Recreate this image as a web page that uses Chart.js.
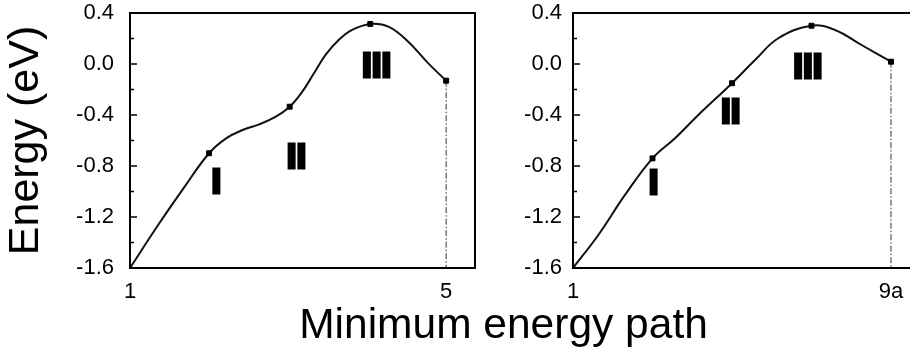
<!DOCTYPE html>
<html>
<head>
<meta charset="utf-8">
<script src="https://cdn.jsdelivr.net/npm/chart.js@4.4.1/dist/chart.umd.min.js"></script>
<style>
  body { margin: 0; width: 910px; height: 354px; overflow: hidden; background: #fff; position: relative;
         font-family: 'Liberation Sans', Arial, sans-serif; }
  .panel { position: absolute; top: 0; height: 354px; }
  #leftBox { left: 0; width: 480px; }
  #rightBox { left: 470px; width: 460px; }
  #xTitle { position: absolute; left: 0; width: 1007px; top: 303px; text-align: center;
            font-size: 42.5px; line-height: 41px; color: #000; }
</style>
</head>
<body>
<div class="panel" id="leftBox"><canvas id="leftChart"></canvas></div>
<div class="panel" id="rightBox"><canvas id="rightChart"></canvas></div>
<div id="xTitle">Minimum energy path</div>
<script>
// path 1: images 1..5
const leftX = [1, 1.356, 1.692, 2.0, 2.216, 2.425, 2.635, 2.845, 3.02, 3.18, 3.327, 3.474, 3.64, 3.81, 4.04, 4.27, 4.52, 4.774, 5.0];
const leftY = [-1.6, -1.263, -0.962, -0.70, -0.583, -0.518, -0.473, -0.413, -0.335, -0.217, -0.073, 0.071, 0.188, 0.267, 0.314, 0.293, 0.175, 0.005, -0.131];
const leftMarkX = [2.0, 3.02, 4.04, 5.0];
const leftMarkY = [-0.70, -0.335, 0.314, -0.131];

// path 2: images 1..9a
const rightX = [1, 1.637, 2.308, 3.0, 3.566, 4.152, 5.0, 5.579, 6.165, 7.0, 7.59, 8.26, 9.0];
const rightY = [-1.6, -1.341, -1.027, -0.74, -0.583, -0.40, -0.151, 0.031, 0.202, 0.30, 0.267, 0.149, 0.018];
const rightMarkX = [3.0, 5.0, 7.0, 9.0];
const rightMarkY = [-0.74, -0.151, 0.30, 0.018];

const yTicks = [-1.6, -1.2, -0.8, -0.4, 0.0, 0.4];
const leftXTicks = [1, 5];
const leftXLabels = ['1', '5'];
const rightXTicks = [1, 9];
const rightXLabels = ['1', '9a'];

const stages = ['I', 'II', 'III'];
const leftStageX = [2.094, 3.107, 4.12];
const leftStageY = [-0.91, -0.714, -0.004];
const rightStageX = [3.025, 4.97, 6.91];
const rightStageY = [-0.918, -0.361, -0.008];

const FONT = "'Liberation Sans', Arial, sans-serif";

const pts = (xs, ys) => xs.map((x, i) => ({x: x, y: ys[i]}));

// box around the plot, inward ticks on the energy axis, stage numerals
const makeFrame = function(stageX, stageY){
	return {
		id: 'frame',
		afterDraw(chart){
			const ctx = chart.ctx, a = chart.chartArea, sy = chart.scales.y, sx = chart.scales.x;
			ctx.save();
			ctx.strokeStyle = '#000';
			ctx.lineWidth = 1.5;
			ctx.beginPath();
			for(let i = 0; i < yTicks.length; i++){
				const py = sy.getPixelForValue(yTicks[i]);
				ctx.moveTo(a.left, py); ctx.lineTo(a.left + 7, py);
				if(i < yTicks.length - 1){
					const pm = sy.getPixelForValue((yTicks[i] + yTicks[i+1]) / 2);
					ctx.moveTo(a.left, pm); ctx.lineTo(a.left + 4, pm);
				}
			}
			ctx.stroke();
			ctx.lineWidth = 2;
			ctx.strokeRect(a.left, a.top, a.right - a.left, a.bottom - a.top);

			ctx.font = 'bold 35px ' + FONT;
			ctx.textAlign = 'center';
			ctx.textBaseline = 'middle';
			ctx.fillStyle = '#000';
			ctx.lineWidth = 3;
			ctx.lineJoin = 'miter';
			for(let i = 0; i < stages.length; i++){
				const px = sx.getPixelForValue(stageX[i]);
				const py = sy.getPixelForValue(stageY[i]) + 3;
				ctx.fillText(stages[i], px, py);
				ctx.strokeText(stages[i], px, py);
			}
			ctx.restore();
		}
	};
};

const makePanel = function(id, o){
	const endX = o.markX[o.markX.length - 1], endY = o.markY[o.markY.length - 1];
	const config = {
		type: 'line',
		data: {
			datasets: [{
				data: pts(o.markX, o.markY),
				showLine: false,
				pointStyle: 'rect',
				pointRadius: 3.5,
				pointBackgroundColor: '#000',
				pointBorderColor: '#000',
				pointBorderWidth: 1
			}, {
				data: pts(o.curveX, o.curveY),
				borderColor: '#111',
				borderWidth: 2,
				pointRadius: 0,
				tension: 0.4,
				fill: false
			}, {
				data: [{x: endX, y: endY}, {x: endX, y: yTicks[0]}],
				borderColor: '#333',
				borderWidth: 1,
				borderDash: [6, 2, 1.5, 2],
				pointRadius: 0
			}]
		},
		options: {
			responsive: true,
			maintainAspectRatio: false,
			animation: false,
			layout: { padding: { top: 13, right: o.padRight, bottom: 0, left: 0 } },
			plugins: { legend: { display: false }, tooltip: { enabled: false } },
			scales: {
				x: {
					type: 'linear',
					min: 1,
					max: o.xMax,
					grid: { display: false },
					border: { display: false },
					afterBuildTicks: s => { s.ticks = o.xTicks.map(v => ({value: v})); },
					afterFit: s => { s.height = 86; s.paddingLeft = 0; s.paddingRight = 0; },
					ticks: {
						padding: 3,
						color: '#000',
						font: { family: FONT, size: 22 },
						maxRotation: 0,
						autoSkip: false,
						callback: (v, i) => o.xLabels[i]
					}
				},
				y: {
					min: -1.6,
					max: 0.4,
					grid: { display: false },
					border: { display: false },
					afterBuildTicks: s => { s.ticks = yTicks.map(v => ({value: v})); },
					afterFit: s => { s.width = o.yWidth; s.paddingTop = 0; s.paddingBottom = 0; },
					ticks: {
						padding: o.yPad,
						color: '#000',
						font: { family: FONT, size: 22 },
						callback: v => (Math.abs(v) < 1e-9 ? 0 : v).toFixed(1)
					},
					title: {
						display: o.yTitle,
						text: 'Energy (eV)',
						color: '#000',
						font: { family: FONT, size: 43, weight: 'normal' },
						padding: { top: 0, bottom: 0 }
					}
				}
			}
		},
		plugins: [makeFrame(o.stageX, o.stageY)]
	};
	new Chart(document.getElementById(id), config);
};

makePanel('leftChart', {
	curveX: leftX, curveY: leftY, markX: leftMarkX, markY: leftMarkY,
	stageX: leftStageX, stageY: leftStageY,
	xTicks: leftXTicks, xLabels: leftXLabels,
	xMax: 5.365, yWidth: 130, yPad: 8, padRight: 3, yTitle: true
});

makePanel('rightChart', {
	curveX: rightX, curveY: rightY, markX: rightMarkX, markY: rightMarkY,
	stageX: rightStageX, stageY: rightStageY,
	xTicks: rightXTicks, xLabels: rightXLabels,
	xMax: 9.73, yWidth: 103, yPad: 3, padRight: 10, yTitle: false
});
</script>
</body>
</html>
